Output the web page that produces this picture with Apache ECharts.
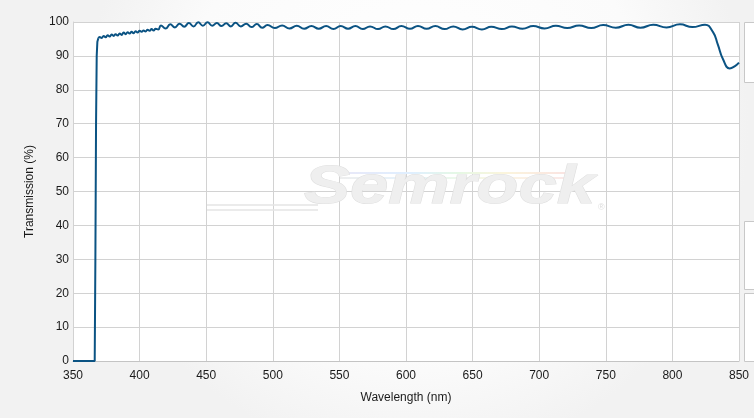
<!DOCTYPE html>
<html>
<head>
<meta charset="utf-8">
<script src="https://cdn.jsdelivr.net/npm/echarts@6/dist/echarts.min.js"></script>
<style>
html,body{margin:0;padding:0;}
#chart{width:754px;height:418px;}
</style>
</head>
<body>
<div id="chart"></div>
<script>
// Blocking edge (straight segments)
const edgeWavelength = [350, 366.3, 366.8, 367.3, 367.8, 368.3, 369];
const edgeTransmission = [0, 0, 30, 70, 90, 94.2, 95.2];

// Passband (smoothed)
const passWavelength = [
  369, 370, 371.5, 373, 374.5, 376, 377.5, 379, 380.5, 382, 383.5, 385, 386.5, 388, 389.5,
  391, 392.5, 394, 395.5, 397, 398.5, 400, 401.5, 403, 404.5, 406, 407.5, 409, 410.5, 412, 414,
  416, 419.5, 423, 426.5, 430, 433.5, 437, 440.5, 444, 447.5, 451, 454.5, 458, 461.5, 465, 468.5,
  472, 476, 480, 484, 488, 492, 496, 501.5, 507, 512.5, 518, 523.5, 529, 534.5, 540, 545.5,
  551, 556.5, 562, 567.5, 573, 579, 584.5, 590.5, 596.5, 603, 609, 615.5, 622, 629, 635.5, 642.5,
  649.5, 657, 664, 672, 679.5, 687.5, 695.5, 704, 712.5, 721, 730, 739, 748, 757.5, 767, 776,
  785.6, 795.6, 805.7, 815, 824.5, 830.5, 834, 838, 843, 847, 850
];
const passTransmission = [
  95.2, 95.6, 95.3, 95.9, 95.5, 96.1, 95.7, 96.3, 95.9, 96.4, 96.0, 96.6, 96.2, 96.9, 96.4,
  97.0, 96.6, 97.1, 96.7, 97.3, 96.9, 97.4, 97.1, 97.5, 97.2, 97.7, 97.4, 97.9, 97.5, 98.0, 97.8,
  99.0, 98.1, 99.3, 98.4, 99.5, 98.6, 99.7, 98.7, 99.9, 98.9, 99.9, 98.9, 99.7, 98.8, 99.6, 98.7,
  99.8, 98.7, 99.5, 98.5, 99.4, 98.3, 99.1, 98.2, 99.0, 98.1, 98.9, 98.0, 98.8, 98.0, 98.8, 97.9,
  98.8, 98.0, 98.8, 97.9, 98.7, 97.9, 98.7, 97.9, 98.8, 98.0, 98.8, 98.0, 98.8, 97.9, 98.7, 97.8,
  98.6, 97.8, 98.6, 97.9, 98.7, 98.0, 98.8, 98.1, 98.9, 98.2, 99.0, 98.2, 99.1, 98.3, 99.2, 98.3,
  99.2, 98.4, 99.3, 98.5, 99.2, 97.0, 93.5, 89.0, 86.3, 87.0, 88.0
];

const xTicks = [350, 850, 50];   // min, max, step
const yTicks = [0, 100, 10];

const lineColor = '#0b5383';
const textColor = '#1a1a1a';
const gridColor = '#d2d2d2';

const chart = echarts.init(document.getElementById('chart'));
chart.setOption({
  animation: false,
  backgroundColor: {
    type: 'radial', x: 0.55, y: 0.3, r: 0.8,
    colorStops: [{offset: 0, color: '#ffffff'}, {offset: 0.7, color: '#fbfbfb'}, {offset: 1, color: '#f2f2f2'}]
  },
  grid: {left: 73, right: 15, top: 22, bottom: 57, show: true, backgroundColor: '#ffffff', borderWidth: 0},
  xAxis: {
    type: 'value', min: xTicks[0], max: xTicks[1], interval: xTicks[2],
    name: 'Wavelength (nm)', nameLocation: 'middle', nameGap: 31,
    nameTextStyle: {color: textColor, fontSize: 12, fontFamily: 'Liberation Sans'},
    axisLine: {show: true, lineStyle: {color: '#c4c4c4', width: 1}},
    axisTick: {show: false},
    axisLabel: {color: textColor, fontSize: 12, fontFamily: 'Liberation Sans', margin: 9},
    splitLine: {show: true, lineStyle: {color: gridColor, width: 1}}
  },
  yAxis: {
    type: 'value', min: yTicks[0], max: yTicks[1], interval: yTicks[2],
    name: 'Transmission (%)', nameLocation: 'middle', nameGap: 37, nameRotate: 90,
    nameTextStyle: {color: textColor, fontSize: 12, fontFamily: 'Liberation Sans'},
    axisLine: {show: true, lineStyle: {color: gridColor, width: 1}},
    axisTick: {show: false},
    axisLabel: {color: textColor, fontSize: 12, fontFamily: 'Liberation Sans', margin: 4},
    splitLine: {show: true, lineStyle: {color: gridColor, width: 1}}
  },
  graphic: [
    {type: 'rect', shape: {x: 744.5, y: 22.5, width: 20, height: 60}, style: {fill: '#ffffff', stroke: '#c8c8c8', lineWidth: 1}, z: 1},
    {type: 'rect', shape: {x: 744.5, y: 221.5, width: 20, height: 68}, style: {fill: '#ffffff', stroke: '#c8c8c8', lineWidth: 1}, z: 1},
    {type: 'rect', shape: {x: 744.5, y: 293.5, width: 20, height: 68}, style: {fill: '#ffffff', stroke: '#c8c8c8', lineWidth: 1}, z: 1},
    {type: 'line', shape: {x1: 207, y1: 210, x2: 318, y2: 210}, style: {stroke: '#e4e4e4', lineWidth: 1.5}, z: 2, silent: true},
    {type: 'line', shape: {x1: 207, y1: 205, x2: 318, y2: 205}, style: {stroke: '#e4e4e4', lineWidth: 1.5}, z: 2, silent: true},
    {type: 'line', shape: {x1: 345, y1: 173, x2: 570, y2: 173},
      style: {stroke: {type: 'linear', x: 0, y: 0, x2: 1, y2: 0, colorStops: [
        {offset: 0, color: '#e8e8f8'}, {offset: 0.3, color: '#dfefff'}, {offset: 0.5, color: '#e5f8e5'}, {offset: 0.7, color: '#fbf5dc'}, {offset: 1, color: '#fae2e2'}]}, lineWidth: 2}, z: 2, silent: true},
    {type: 'line', shape: {x1: 340, y1: 178, x2: 565, y2: 178},
      style: {stroke: {type: 'linear', x: 0, y: 0, x2: 1, y2: 0, colorStops: [
        {offset: 0, color: '#eeeeee'}, {offset: 0.3, color: '#e6f2fb'}, {offset: 0.5, color: '#ecf8ec'}, {offset: 0.7, color: '#fbf6e4'}, {offset: 1, color: '#fae8e8'}]}, lineWidth: 2}, z: 2, silent: true},
    {type: 'text', x: 304, y: 162, scaleX: 1.3, z: 2, silent: true,
      style: {text: 'Semrock', font: 'italic bold 53px "Liberation Sans"', fill: '#efefef', stroke: '#dfdfdf', lineWidth: 1}},
    {type: 'text', x: 598, y: 203, z: 2, silent: true,
      style: {text: '®', font: '9px "Liberation Sans"', fill: '#dddddd'}}
  ],
  series: [
    {
      type: 'line', data: edgeWavelength.map((w, i) => [w, edgeTransmission[i]]),
      showSymbol: false, smooth: false, lineStyle: {color: lineColor, width: 2}, z: 5
    },
    {
      type: 'line', data: passWavelength.map((w, i) => [w, passTransmission[i]]),
      showSymbol: false, smooth: 0.5, lineStyle: {color: lineColor, width: 2}, z: 5
    }
  ]
});
</script>
</body>
</html>
